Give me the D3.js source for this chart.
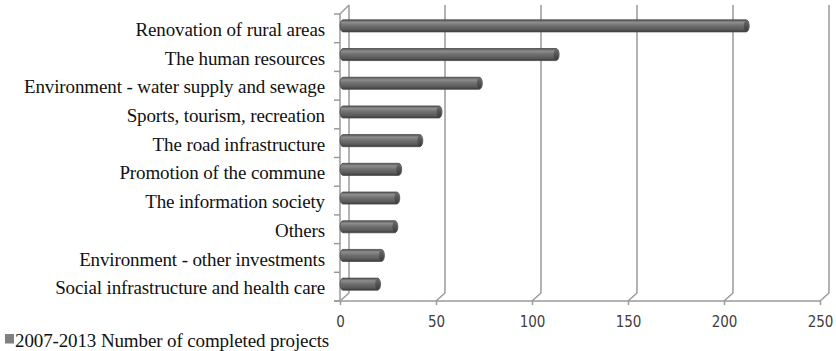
<!DOCTYPE html>
<html>
<head>
<meta charset="utf-8">
<script src="https://cdn.jsdelivr.net/npm/d3@7"></script>
<style>
  html, body { margin: 0; padding: 0; background: #fff; }
  svg { display: block; }
</style>
</head>
<body>
<svg id="chart" width="836" height="351"></svg>
<script>
// Completed projects per measure, 2007-2013
const categories = [
  "Renovation of rural areas",
  "The human resources",
  "Environment - water supply and sewage",
  "Sports, tourism, recreation",
  "The road infrastructure",
  "Promotion of the commune",
  "The information society",
  "Others ",
  "Environment - other investments",
  "Social infrastructure and health care"
];
const projects = [210, 111, 71, 50, 40, 29, 28, 27, 20, 18];
const xTicks = [0, 50, 100, 150, 200, 250];
const seriesName = "2007-2013 Number of completed projects";

const svg = d3.select("#chart");

// front plane of the pseudo-3D plot area and its depth offset
const plotLeft = 340, plotRight = 820, plotTop = 14, plotBottom = 301;
const depthX = 9, depthY = -8;
const barDX = 3, barDY = -2.5;

const x = d3.scaleLinear().domain([0, 250]).range([plotLeft, plotRight]);
const y = d3.scaleBand().domain(categories).range([plotTop, plotBottom]).paddingInner(0.58).paddingOuter(0.29);
const band = d3.scaleBand().domain(categories).range([plotTop, plotBottom]);

const gridColor = "#9a9a9a";
const serif = "'Liberation Serif', 'Times New Roman', serif";

// back wall gridlines
svg.append("g").selectAll("line").data(xTicks).join("line")
  .attr("x1", d => x(d) + depthX).attr("x2", d => x(d) + depthX)
  .attr("y1", plotTop + depthY - 1).attr("y2", plotBottom + depthY)
  .attr("stroke", gridColor).attr("stroke-width", 1.5);

// floor diagonals from the front axis back to the wall
svg.append("g").selectAll("line").data(xTicks).join("line")
  .attr("x1", d => x(d)).attr("x2", d => x(d) + depthX)
  .attr("y1", plotBottom).attr("y2", plotBottom + depthY)
  .attr("stroke", gridColor).attr("stroke-width", 1.5);

// left wall: front edge, top diagonal, category boundary ticks
svg.append("line").attr("x1", plotLeft).attr("x2", plotLeft).attr("y1", plotTop).attr("y2", plotBottom)
  .attr("stroke", gridColor).attr("stroke-width", 1.5);
svg.append("line").attr("x1", plotLeft).attr("x2", plotLeft + depthX).attr("y1", plotTop).attr("y2", plotTop + depthY - 1)
  .attr("stroke", gridColor).attr("stroke-width", 1.5);
const boundaries = categories.map(c => band(c)).concat([plotBottom]);
svg.append("g").selectAll("line").data(boundaries).join("line")
  .attr("x1", plotLeft - 6).attr("x2", plotLeft)
  .attr("y1", d => d).attr("y2", d => d)
  .attr("stroke", gridColor).attr("stroke-width", 1.5);

// bottom value axis
const xAxis = svg.append("g")
  .attr("transform", `translate(0,${plotBottom})`)
  .call(d3.axisBottom(x).tickValues(xTicks).tickSize(4).tickPadding(11).tickSizeOuter(0));
xAxis.select(".domain").attr("stroke", gridColor).attr("stroke-width", 1.5)
  .attr("d", `M${plotLeft - 6},0H${plotRight}`);
xAxis.selectAll(".tick line").attr("stroke", gridColor).attr("stroke-width", 1.5);
xAxis.selectAll(".tick text")
  .attr("fill", "#404040")
  .style("font-family", "'DejaVu Sans Condensed', 'DejaVu Sans', Verdana, sans-serif")
  .style("font-stretch", "condensed")
  .style("font-size", "15px");

// category labels
const yAxis = svg.append("g")
  .attr("transform", `translate(${plotLeft},0)`)
  .call(d3.axisLeft(band).tickSize(0).tickPadding(15));
yAxis.select(".domain").remove();
yAxis.selectAll(".tick text")
  .attr("fill", "#111")
  .attr("dy", "0.4em")
  .style("font-family", serif)
  .style("font-size", "19px")
  .style("letter-spacing", "-0.12px");

// cylinder shading
const defs = svg.append("defs");
const grad = defs.append("linearGradient").attr("id", "cyl")
  .attr("x1", 0).attr("y1", 0).attr("x2", 0).attr("y2", 1);
grad.append("stop").attr("offset", "0%").attr("stop-color", "#555");
grad.append("stop").attr("offset", "22%").attr("stop-color", "#8e8e8e");
grad.append("stop").attr("offset", "45%").attr("stop-color", "#727272");
grad.append("stop").attr("offset", "80%").attr("stop-color", "#5a5a5a");
grad.append("stop").attr("offset", "100%").attr("stop-color", "#3a3a3a");
const capGrad = defs.append("linearGradient").attr("id", "cap")
  .attr("x1", 0).attr("y1", 0).attr("x2", 0).attr("y2", 1);
capGrad.append("stop").attr("offset", "0%").attr("stop-color", "#6a6a6a");
capGrad.append("stop").attr("offset", "100%").attr("stop-color", "#3c3c3c");

const rx = 3;
const bars = svg.append("g").selectAll("g").data(categories).join("g");
bars.append("path")
  .attr("d", (c, i) => {
    const x0 = x(0) + barDX, x1 = x(projects[i]) + barDX;
    const yt = y(c) + barDY, h = y.bandwidth(), yb = yt + h;
    return `M${x0},${yt}L${x1},${yt}A${rx},${h / 2} 0 0 1 ${x1},${yb}L${x0},${yb}A${rx},${h / 2} 0 0 1 ${x0},${yt}Z`;
  })
  .attr("fill", "url(#cyl)")
  .attr("stroke", "#4a4a4a").attr("stroke-width", 0.8);
bars.append("ellipse")
  .attr("cx", (c, i) => x(projects[i]) + barDX)
  .attr("cy", c => y(c) + barDY + y.bandwidth() / 2)
  .attr("rx", rx - 0.6)
  .attr("ry", y.bandwidth() / 2 - 0.6)
  .attr("fill", "url(#cap)");

// legend
const legend = svg.append("g").attr("transform", "translate(5,334)");
legend.append("rect").attr("width", 9).attr("height", 9.5).attr("fill", "#808080");
legend.append("text").attr("x", 10).attr("y", 12.5)
  .attr("fill", "#111")
  .style("font-family", serif)
  .style("font-size", "19px")
  .style("letter-spacing", "-0.12px")
  .text(seriesName);
</script>
</body>
</html>
